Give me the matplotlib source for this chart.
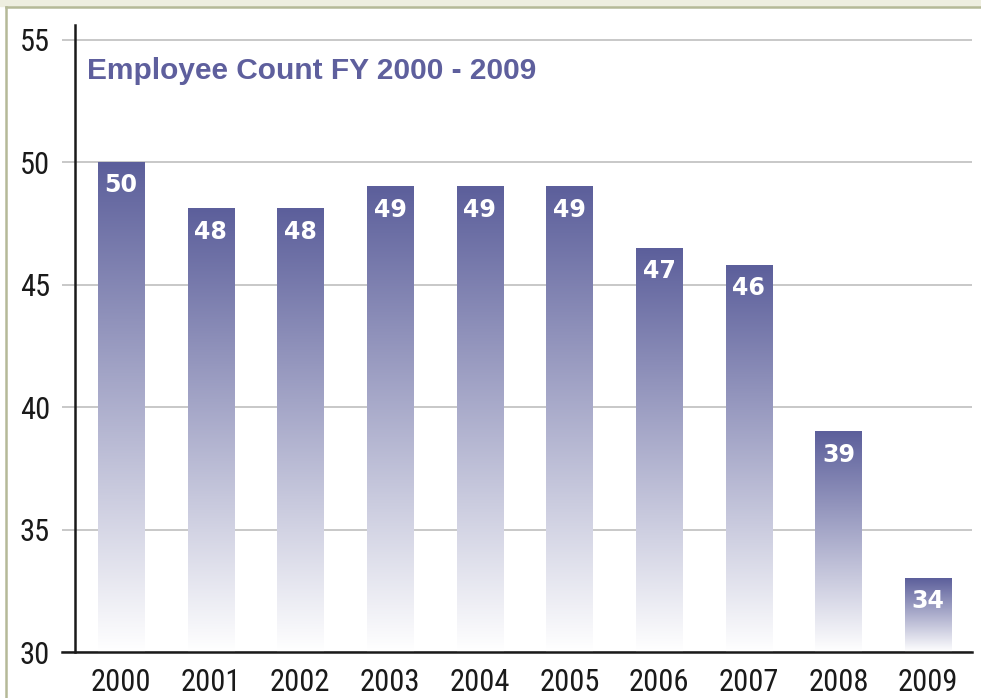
import numpy as np
import matplotlib.pyplot as plt
from matplotlib.colors import LinearSegmentedColormap
from matplotlib.lines import Line2D
from matplotlib.patches import Rectangle

# Data
years = ['2000', '2001', '2002', '2003', '2004', '2005', '2006', '2007', '2008', '2009']
heights = [50, 48.1, 48.1, 49, 49, 49, 46.5, 45.8, 39, 33]
value_labels = ['50', '48', '48', '49', '49', '49', '47', '46', '39', '34']
y_ticks = [30, 35, 40, 45, 50, 55]

purple = '#5c5f9b'
fade = LinearSegmentedColormap.from_list('fade', ['white', purple])
narrow = ['Roboto Condensed', 'DejaVu Sans']

W, H = 981, 698
fig = plt.figure(figsize=(W / 100, H / 100), dpi=100)

# light frame round the chart
fig.patches.append(Rectangle((0, 1 - 6 / H), 1, 6 / H, transform=fig.transFigure,
                             color='#eeeee0', zorder=0))
fig.add_artist(Line2D([6 / W, 1], [1 - 7 / H] * 2, color='#b5b998', lw=1.8))
fig.add_artist(Line2D([6 / W, 6 / W], [0, 1 - 7 / H], color='#b5b998', lw=1.8))

ax = fig.add_axes([75 / W, 46 / H, 897 / W, 627 / H])

x = np.arange(len(years))
bars = ax.bar(x, np.array(heights) - 30, bottom=30, width=0.513, color='none')

# gradient fill, purple at the top fading to white at the base
grad = np.linspace(0, 1, 256).reshape(-1, 1)
for bar, lab in zip(bars, value_labels):
    x0, y0 = bar.get_x(), bar.get_y()
    w, h = bar.get_width(), bar.get_height()
    ax.imshow(grad, extent=(x0, x0 + w, y0, y0 + h), origin='lower',
              cmap=fade, aspect='auto', zorder=2)
    ax.annotate(lab, (x0 + w / 2, y0 + h), xytext=(0, -21.5), textcoords='offset points',
                ha='center', va='baseline', color='white', fontweight='bold',
                fontsize=17, family='DejaVu Sans', zorder=3)

ax.set_xlim(-0.513, 9.49)
ax.set_ylim(30, 55.61)

ax.set_yticks(y_ticks)
ax.set_xticks(x, years)
ax.tick_params(axis='y', length=9.4, width=1.4, color='#c8c8c8', pad=8.6, labelsize=22)
ax.tick_params(axis='x', length=0, pad=11.5, labelsize=22)
for t in ax.get_xticklabels() + ax.get_yticklabels():
    t.set_family(narrow)
    t.set_color('#1a1a1a')

ax.grid(axis='y', color='#c8c8c8', lw=1.4)
ax.set_axisbelow(True)

for s in ['top', 'right']:
    ax.spines[s].set_visible(False)
for s in ['left', 'bottom']:
    ax.spines[s].set_linewidth(1.8)
    ax.spines[s].set_color('#1a1a1a')
ax.spines['bottom'].set_bounds(-0.513 - 13 / 89.67, 9.49)

fig.text(87 / W, 1 - 79 / H, 'Employee Count FY 2000 - 2009', color='#5e5f9d',
         fontsize=21.5, fontweight='bold', family='Liberation Sans', va='baseline')

fig.savefig('out.png', dpi=100)
